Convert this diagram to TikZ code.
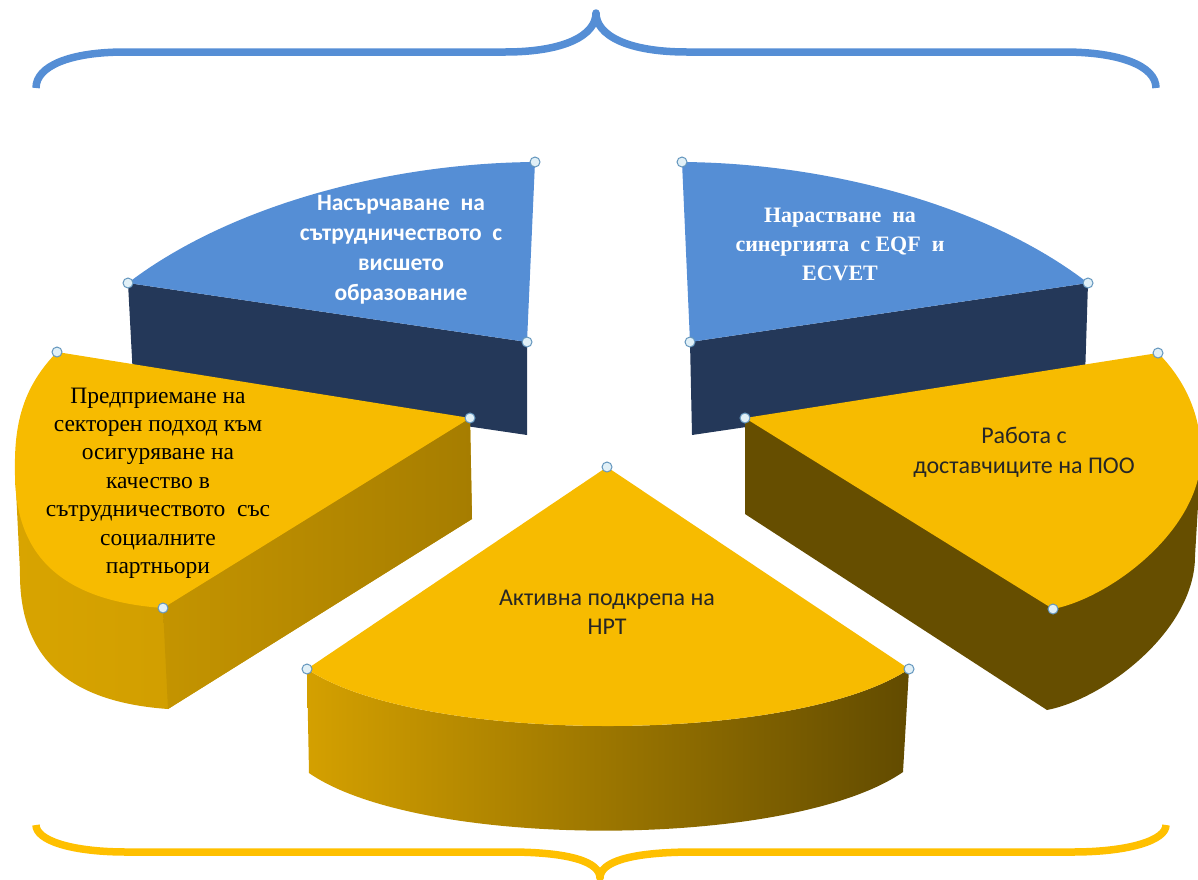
\documentclass[tikz,border=0pt]{standalone}
\usepackage{fontspec}
\setmainfont{Liberation Serif}
\newfontfamily\calfont{Carlito}
\definecolor{bluetop}{RGB}{85,142,213}
\definecolor{navy}{RGB}{36,56,89}
\definecolor{goldtop}{RGB}{247,187,0}
\definecolor{brownside}{RGB}{102,78,0}
\definecolor{goldA}{RGB}{216,164,0}
\definecolor{goldB}{RGB}{196,148,0}
\definecolor{goldC}{RGB}{166,125,0}
\definecolor{bsideL}{RGB}{212,160,0}
\definecolor{bsideR}{RGB}{98,75,0}
\definecolor{braceblue}{RGB}{85,142,213}
\definecolor{braceyellow}{RGB}{255,192,0}
\definecolor{handlefill}{RGB}{225,240,247}
\definecolor{handledraw}{RGB}{100,150,190}
\definecolor{textdark}{RGB}{38,38,38}
\begin{document}
\begin{tikzpicture}[x=1pt,y=-1pt,
  handlemark/.style={fill=handlefill,draw=handledraw,line width=1pt},
  lbl/.style={align=center,inner sep=0pt},
  bracestroke/.style={line width=7.5pt,line join=round}
]
\useasboundingbox (0,0) rectangle (1198,879);

% braces
\draw[bracestroke,draw=braceblue] (36,88) .. controls (36,66) and (70,52) .. (125,52) -- (505,52) .. controls (565,52) and (596,35) .. (596,13) .. controls (596,35) and (627,52) .. (687,52) -- (1064,52) .. controls (1120,52) and (1156,66) .. (1156,88);
\draw[bracestroke,draw=braceyellow] (36,825) .. controls (36,840) and (70,852) .. (127,852) -- (509,852) .. controls (570,852) and (600,862) .. (600,878) .. controls (600,862) and (630,852) .. (694,852) -- (1072,852) .. controls (1130,852) and (1166,840) .. (1166,825);

% blue left piece
\fill[navy] (128,283) -- (527,342) -- (527,435) -- (133,377) -- cycle;
\fill[bluetop] (128,283) .. controls (230,205) and (390,163) .. (535,162) -- (527,342) -- cycle;

% blue right piece
\fill[navy] (690,342) -- (1088,283) -- (1085,377) -- (692,435) -- cycle;
\fill[bluetop] (682,162) .. controls (827,163) and (987,205) .. (1088,283) -- (690,342) -- cycle;

% yellow left piece
\shade[left color=goldA,right color=goldB] (15,470) -- (470,418) -- (472,519) -- (168,709) .. controls (55,701) and (19,646) .. (20,571) -- cycle;
\shade[left color=goldB,right color=goldC] (163,608) -- (470,418) -- (472,519) -- (168,709) -- cycle;
\fill[goldtop] (57,352) .. controls (25,385) and (14,420) .. (15,470) .. controls (14,545) and (50,600) .. (163,608) -- (470,418) -- cycle;

% yellow right piece
\fill[brownside] (745,418) -- (1201,455) -- (1195,556) .. controls (1195,631) and (1104,699) .. (1047,710) -- (745,514) -- cycle;
\fill[goldtop] (745,418) -- (1158,353) .. controls (1185,380) and (1201,415) .. (1201,455) .. controls (1201,530) and (1110,598) .. (1053,609) -- cycle;

% bottom piece
\shade[left color=bsideL,right color=bsideR] (307,669) .. controls (420,745) and (795,745) .. (909,669) -- (903,772) .. controls (790,850) and (420,850) .. (309,773) -- cycle;
\fill[goldtop] (607,467) -- (307,669) .. controls (420,745) and (795,745) .. (909,669) -- cycle;

% selection handles
\foreach \hx/\hy in {128/283,535/162,527/342,682/162,1088/283,690/342,57/352,470/418,163/608,1158/353,745/418,1053/609,607/467,307/669,909/669}
  \filldraw[handlemark] (\hx,\hy) circle[radius=5pt];

% labels
\node[lbl,text=white,font=\calfont\bfseries\fontsize{23.5}{30}\selectfont] (t1) at (401,250) {Насърчаване\ \ на\\сътрудничеството\ \ с\\висшето\\образование};
\node[lbl,text=white,font=\bfseries\fontsize{22}{29}\selectfont] (t2) at (840,244) {Нарастване\ \ на\\синергията\ \ с EQF\ \ и\\ECVET};
\node[lbl,text=black,font=\fontsize{23.5}{28.4}\selectfont] (t3) at (158,483) {Предприемане на\\секторен подход към\\осигуряване на\\качество в\\сътрудничеството\ \ със\\социалните\\партньори};
\node[lbl,text=textdark,font=\calfont\fontsize{24}{30}\selectfont] (t4) at (1024,452) {Работа с\\доставчиците на ПОО};
\node[lbl,text=textdark,font=\calfont\fontsize{24}{29}\selectfont] (t5) at (607,612) {Активна подкрепа на\\НРТ};
\end{tikzpicture}
\end{document}
